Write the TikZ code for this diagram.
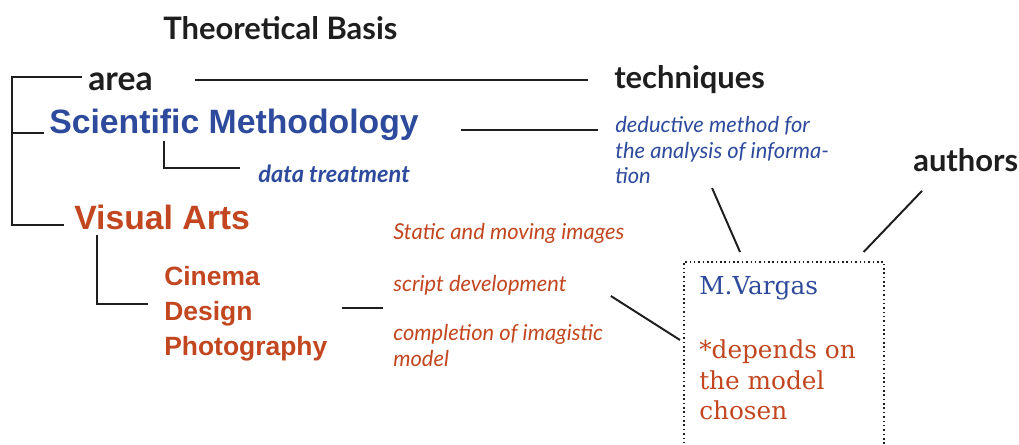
\documentclass[tikz,border=0pt]{standalone}
\usepackage{fontspec}
\setmainfont{Lato}
\newfontfamily\fieldfont{Liberation Sans}
\newfontfamily\cardfont{DejaVu Serif}
\definecolor{headblack}{HTML}{1E1E1E}
\definecolor{methblue}{HTML}{2D4A9C}
\definecolor{artsred}{HTML}{C2461F}

\begin{document}
\begin{tikzpicture}[x=0.025cm,y=-0.025cm,
    heading/.style={font=\bfseries\fontsize{22}{26}\selectfont,text=headblack,inner sep=0,anchor=west},
    field/.style={font=\fieldfont\bfseries\fontsize{24}{28}\selectfont,inner sep=0,anchor=west},
    subfield/.style={font=\fieldfont\bfseries\fontsize{18.8}{24.8}\selectfont,text=artsred,inner sep=0,align=left,anchor=west},
    note/.style={font=\itshape\fontsize{15.6}{18.2}\selectfont,inner sep=0,align=left,anchor=west},
    cardtext/.style={font=\cardfont\fontsize{17.6}{22}\selectfont,inner sep=0,align=left,anchor=west},
    card/.style={draw=headblack,dotted,line width=1.1pt,minimum width=5cm,minimum height=5cm,anchor=north west},
    link/.style={draw=headblack,line width=1.4pt}]
    \useasboundingbox (0,0) rectangle (1019,445);

    % headings
    \node[heading] (theory) at (163,28) {Theoretical Basis};
    \node[heading,font=\bfseries\fontsize{24}{26}\selectfont] (area) at (88,82) {area};
    \node[heading] (tech) at (614,80) {techniques};
    \node[heading] (authors) at (913,160) {authors};

    % areas
    \node[field,text=methblue] (sci) at (49,125) {Scientific Methodology};
    \node[font=\bfseries\itshape\fontsize{16.8}{18}\selectfont,text=methblue,inner sep=0,anchor=west] (treat) at (258,174) {data treatment};
    \node[field,text=artsred] (visual) at (74,217) {Visual Arts};
    \node[subfield] (media) at (164,314) {Cinema\\Design\\Photography};

    % techniques
    \node[note,text=methblue,anchor=north west] (deduct) at (615,116) {deductive method for\\the analysis of informa-\\tion};
    \node[note,text=artsred] (static) at (393,233) {Static and moving images};
    \node[note,text=artsred] (script) at (393,285) {script development};
    \node[note,text=artsred,anchor=north west] (complete) at (393,324) {completion of imagistic\\model};

    % authors box
    \node[card] (card) at (683,261) {};
    \node[cardtext,text=methblue] (vargas) at (699,288) {M.Vargas};
    \node[cardtext,text=artsred,anchor=north west] (depends) at (699,339) {*depends on\\the model\\chosen};

    % brackets
    \coordinate (spine) at (12,150);
    \draw[link] ([xshift=-0.15cm,yshift=0.125cm]area.west) -| (spine) |- ([xshift=-0.25cm,yshift=-0.2cm]visual.west);
    \draw[link] ([xshift=-0.125cm,yshift=-0.2cm]sci.west) coordinate (sciL) -- (sciL -| spine);
    \draw[link] ([xshift=2.875cm]sci.south west) |- ([xshift=-0.45cm,yshift=0.15cm]treat.west);
    \draw[link] ([xshift=0.575cm,yshift=-0.125cm]visual.south west) |- ([xshift=-0.4cm,yshift=0.25cm]media.west);

    % connectors
    \draw[link] ([xshift=1.05cm]area.east |- tech.west) -- ([xshift=-0.65cm]tech.west);
    \draw[link] ([xshift=1.05cm,yshift=-0.12cm]sci.east) -- ++(137,0);
    \draw[link] ([xshift=0.35cm,yshift=0.15cm]media.east) -- ++(41,0);
    \draw[link] ([xshift=1.1cm,yshift=-0.275cm]script.east) -- ([xshift=-0.075cm,yshift=-1.975cm]card.north west);
    \draw[link] ([xshift=-0.25cm,yshift=-0.1cm]deduct.south) -- ([xshift=1.425cm,yshift=0.225cm]card.north west);
    \draw[link] ([xshift=0.225cm,yshift=-0.475cm]authors.south west) -- ([xshift=-0.525cm,yshift=0.225cm]card.north east);
\end{tikzpicture}
\end{document}
